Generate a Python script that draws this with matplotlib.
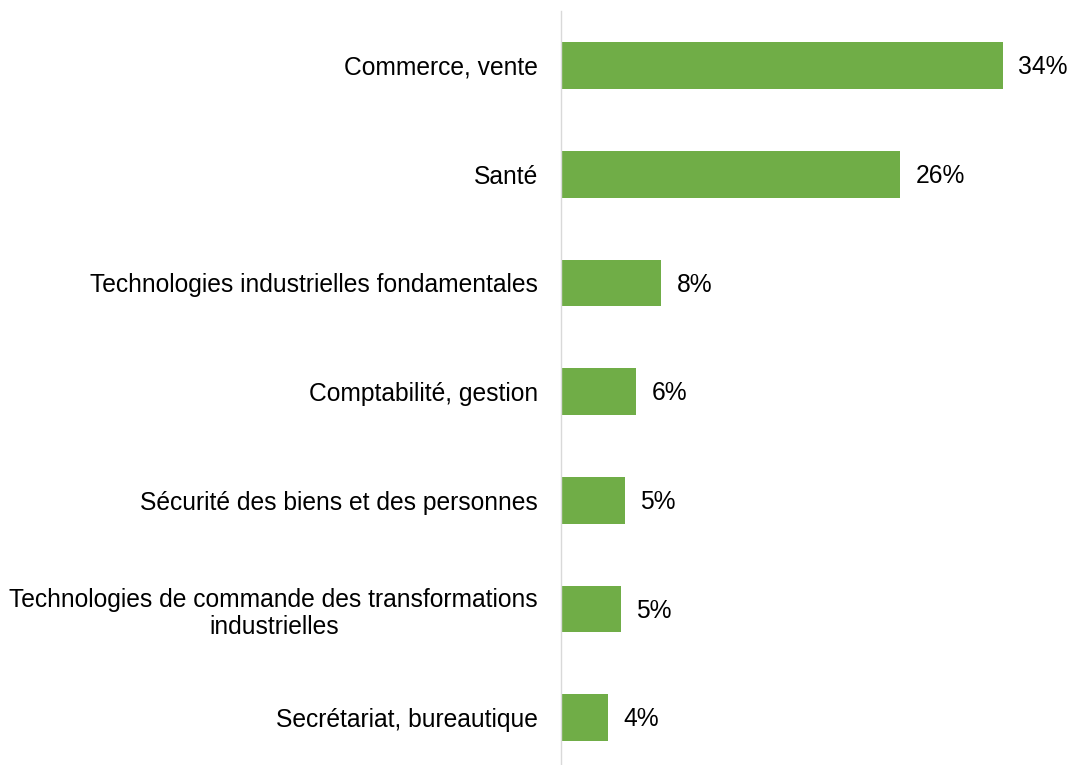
import matplotlib
matplotlib.use("Agg")
import matplotlib.pyplot as plt

categories = [
    "Commerce, vente",
    "Santé",
    "Technologies industrielles fondamentales",
    "Comptabilité, gestion",
    "Sécurité des biens et des personnes",
    "Technologies de commande des transformations\nindustrielles",
    "Secrétariat, bureautique",
]
values = [34.0, 26.1, 7.7, 5.8, 4.9, 4.6, 3.6]
value_labels = ["34%", "26%", "8%", "6%", "5%", "5%", "4%"]

plt.rcParams["font.family"] = ["Liberation Sans", "DejaVu Sans"]

W, H = 1068, 765
fig = plt.figure(figsize=(W / 100, H / 100), dpi=100)
left = 561 / W
top_px = 11.1
height_px = 761.0
ax = fig.add_axes([left, 1 - (top_px + height_px) / H, 1 - left, height_px / H])

y = list(range(len(categories)))
bars = ax.barh(y, values, height=0.43, color="#70AD47")
ax.set_ylim(len(categories) - 0.5, -0.5)
ax.set_xlim(0, 39.0)

ax.set_yticks(y)
ax.set_yticklabels(categories, fontsize=17.7, multialignment="center")
ax.tick_params(axis="y", length=0, pad=16.5)
ax.set_xticks([])

for s in ["top", "right", "bottom"]:
    ax.spines[s].set_visible(False)
ax.spines["left"].set_color("#d9d9d9")
ax.spines["left"].set_linewidth(1.0)

for rect, lab in zip(bars, value_labels):
    ax.annotate(lab, xy=(rect.get_width(), rect.get_y() + rect.get_height() / 2),
                xytext=(11, -1.2), textcoords="offset points",
                va="center", ha="left", fontsize=17.7, annotation_clip=False)

fig.savefig("out.png", dpi=100)
